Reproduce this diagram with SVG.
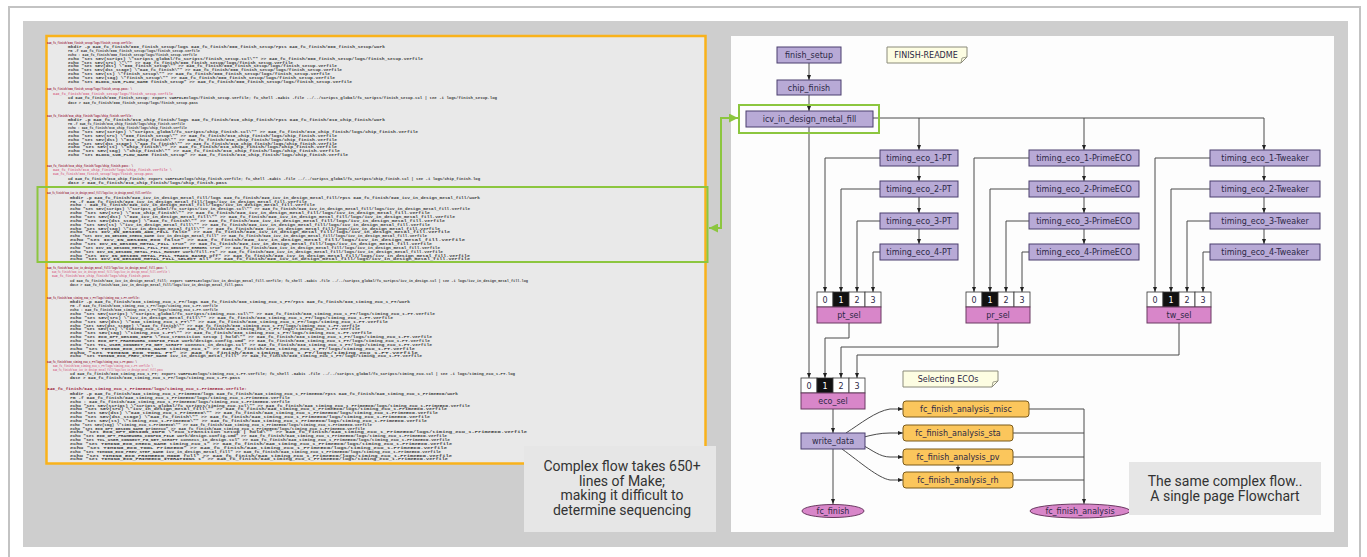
<svg xmlns="http://www.w3.org/2000/svg" width="1367" height="557" viewBox="0 0 1367 557">
<defs>
<style>
.code{font-family:"Liberation Mono",monospace;font-size:4.3px;font-weight:bold}
.h{fill:#9a1c40}
.p{fill:#d9708f}
.c{fill:#3d3d3d}
.nd{fill:#b8aad6;stroke:#4b3f6e;stroke-width:1}
.sel{fill:#d886c9;stroke:#6b3a62;stroke-width:1}
.cell{fill:#ffffff;stroke:#333;stroke-width:0.8}
.cellb{fill:#111;stroke:#333;stroke-width:0.8}
.or{fill:#fbc65c;stroke:#7a5a1a;stroke-width:1}
.note{fill:#fdfde2;stroke:#8a8a7a;stroke-width:1}
.t{font-family:"DejaVu Sans",sans-serif;font-size:8px;fill:#2c2845;text-anchor:middle}
.tw{fill:#ffffff}
.e{fill:none;stroke:#4a4a4a;stroke-width:1}
.cap{font-family:Roboto,"Liberation Sans",sans-serif;font-size:14px;fill:#333;text-anchor:middle}
.g{fill:none;stroke:#8cc63f;stroke-width:2}
</style>
<marker id="a" viewBox="0 0 10 10" refX="10" refY="5" markerWidth="5" markerHeight="5" orient="auto" markerUnits="userSpaceOnUse"><path d="M0,1 L10,5 L0,9 z" fill="#222"/></marker>
<marker id="ga" viewBox="0 0 10 10" refX="10" refY="5" markerWidth="9" markerHeight="9" orient="auto-start-reverse" markerUnits="userSpaceOnUse"><path d="M0,0 L10,5 L0,10 z" fill="#8cc63f"/></marker>
</defs>

<rect x="0" y="0" width="1367" height="557" fill="#ffffff"/>
<path d="M9,557 V7 H1360 V557" fill="none" stroke="#c3c3c3" stroke-width="2"/>
<rect x="23" y="21" width="1325" height="526" fill="#cecece"/>

<!-- Left: Makefile listing -->
<g id="makefile">
<rect x="46.5" y="36" width="659" height="427.5" fill="#e9e9e9" stroke="#f9b21b" stroke-width="2.5"/>
<g class="code">
<text class="h" x="47" y="44.4" textLength="86" lengthAdjust="spacingAndGlyphs">040_fc_finish/000_finish_setup/logs/finish_setup.verfile:</text>
<text class="c" x="68" y="48.3" textLength="317" lengthAdjust="spacingAndGlyphs">mkdir -p 040_fc_finish/000_finish_setup/logs 040_fc_finish/000_finish_setup/rpts 040_fc_finish/000_finish_setup/work</text>
<text class="c" x="68" y="52.1" textLength="132" lengthAdjust="spacingAndGlyphs">rm -f 040_fc_finish/000_finish_setup/logs/finish_setup.verfile</text>
<text class="c" x="68" y="55.9" textLength="129" lengthAdjust="spacingAndGlyphs">echo : 040_fc_finish/000_finish_setup/logs/finish_setup.verfile</text>
<text class="c" x="68" y="59.7" textLength="355" lengthAdjust="spacingAndGlyphs">echo "set SEV(script) \"scripts_global/fc_scripts/finish_setup.tcl\"" &gt;&gt; 040_fc_finish/000_finish_setup/logs/finish_setup.verfile</text>
<text class="c" x="68" y="63.5" textLength="225" lengthAdjust="spacingAndGlyphs">echo "set SEV(src) \"\"" &gt;&gt; 040_fc_finish/000_finish_setup/logs/finish_setup.verfile</text>
<text class="c" x="68" y="67.3" textLength="269" lengthAdjust="spacingAndGlyphs">echo "set SEV(dst) \"000_finish_setup\"" &gt;&gt; 040_fc_finish/000_finish_setup/logs/finish_setup.verfile</text>
<text class="c" x="68" y="71.1" textLength="274" lengthAdjust="spacingAndGlyphs">echo "set SEV(dst_stage) \"040_fc_finish\"" &gt;&gt; 040_fc_finish/000_finish_setup/logs/finish_setup.verfile</text>
<text class="c" x="68" y="74.9" textLength="262" lengthAdjust="spacingAndGlyphs">echo "set SEV(ts) \"finish_setup\"" &gt;&gt; 040_fc_finish/000_finish_setup/logs/finish_setup.verfile</text>
<text class="c" x="68" y="78.7" textLength="267" lengthAdjust="spacingAndGlyphs">echo "set SEV(tag) \"finish_setup\"" &gt;&gt; 040_fc_finish/000_finish_setup/logs/finish_setup.verfile</text>
<text class="c" x="68" y="82.5" textLength="284" lengthAdjust="spacingAndGlyphs">echo "set BLOCK_SUB_FLOW_NAME finish_setup" &gt;&gt; 040_fc_finish/000_finish_setup/logs/finish_setup.verfile</text>

<text class="h" x="47" y="90.4" textLength="85" lengthAdjust="spacingAndGlyphs">040_fc_finish/000_finish_setup/logs/finish_setup.pass: \</text>
<text class="p" x="53" y="95" textLength="120" lengthAdjust="spacingAndGlyphs">040_fc_finish/000_finish_setup/logs/finish_setup.verfile</text>
<text class="c" x="68" y="99.4" textLength="429" lengthAdjust="spacingAndGlyphs">cd 040_fc_finish/000_finish_setup; export VARFILE=logs/finish_setup.verfile; fc_shell -64bit -file ../../scripts_global/fc_scripts/finish_setup.tcl | tee -i logs/finish_setup.log</text>
<text class="c" x="68" y="103.8" textLength="130" lengthAdjust="spacingAndGlyphs">date &gt; 040_fc_finish/000_finish_setup/logs/finish_setup.pass</text>

<text class="h" x="47" y="117.4" textLength="86" lengthAdjust="spacingAndGlyphs">040_fc_finish/010_chip_finish/logs/chip_finish.verfile:</text>
<text class="c" x="68" y="121.4" textLength="317" lengthAdjust="spacingAndGlyphs">mkdir -p 040_fc_finish/010_chip_finish/logs 040_fc_finish/010_chip_finish/rpts 040_fc_finish/010_chip_finish/work</text>
<text class="c" x="68" y="125.3" textLength="117" lengthAdjust="spacingAndGlyphs">rm -f 040_fc_finish/010_chip_finish/logs/chip_finish.verfile</text>
<text class="c" x="68" y="129.1" textLength="119" lengthAdjust="spacingAndGlyphs">echo : 040_fc_finish/010_chip_finish/logs/chip_finish.verfile</text>
<text class="c" x="68" y="133" textLength="350" lengthAdjust="spacingAndGlyphs">echo "set SEV(script) \"scripts_global/fc_scripts/chip_finish.tcl\"" &gt;&gt; 040_fc_finish/010_chip_finish/logs/chip_finish.verfile</text>
<text class="c" x="68" y="136.8" textLength="269" lengthAdjust="spacingAndGlyphs">echo "set SEV(src) \"000_finish_setup\"" &gt;&gt; 040_fc_finish/010_chip_finish/logs/chip_finish.verfile</text>
<text class="c" x="68" y="140.7" textLength="269" lengthAdjust="spacingAndGlyphs">echo "set SEV(dst) \"010_chip_finish\"" &gt;&gt; 040_fc_finish/010_chip_finish/logs/chip_finish.verfile</text>
<text class="c" x="68" y="144.5" textLength="269" lengthAdjust="spacingAndGlyphs">echo "set SEV(dst_stage) \"040_fc_finish\"" &gt;&gt; 040_fc_finish/010_chip_finish/logs/chip_finish.verfile</text>
<text class="c" x="68" y="148.4" textLength="269" lengthAdjust="spacingAndGlyphs">echo "set SEV(ts) \"chip_finish\"" &gt;&gt; 040_fc_finish/010_chip_finish/logs/chip_finish.verfile</text>
<text class="c" x="68" y="152.2" textLength="272" lengthAdjust="spacingAndGlyphs">echo "set SEV(tag) \"chip_finish\"" &gt;&gt; 040_fc_finish/010_chip_finish/logs/chip_finish.verfile</text>
<text class="c" x="68" y="156.1" textLength="280" lengthAdjust="spacingAndGlyphs">echo "set BLOCK_SUB_FLOW_NAME finish_setup" &gt;&gt; 040_fc_finish/010_chip_finish/logs/chip_finish.verfile</text>

<text class="h" x="47" y="167.4" textLength="86" lengthAdjust="spacingAndGlyphs">040_fc_finish/010_chip_finish/logs/chip_finish.pass: \</text>
<text class="p" x="53" y="171.4" textLength="119" lengthAdjust="spacingAndGlyphs">040_fc_finish/010_chip_finish/logs/chip_finish.verfile \</text>
<text class="p" x="53" y="175.4" textLength="100" lengthAdjust="spacingAndGlyphs">040_fc_finish/000_finish_setup/logs/finish_setup.pass</text>
<text class="c" x="68" y="180.4" textLength="412" lengthAdjust="spacingAndGlyphs">cd 040_fc_finish/010_chip_finish; export VARFILE=logs/chip_finish.verfile; fc_shell -64bit -file ../../scripts_global/fc_scripts/chip_finish.tcl | tee -i logs/chip_finish.log</text>
<text class="c" x="68" y="184.4" textLength="159" lengthAdjust="spacingAndGlyphs">date &gt; 040_fc_finish/010_chip_finish/logs/chip_finish.pass</text>

<text class="h" x="47" y="194.4" textLength="105" lengthAdjust="spacingAndGlyphs">040_fc_finish/020_icv_in_design_metal_fill/logs/icv_in_design_metal_fill.verfile:</text>
<text class="c" x="70" y="198.7" textLength="410" lengthAdjust="spacingAndGlyphs">mkdir -p 040_fc_finish/020_icv_in_design_metal_fill/logs 040_fc_finish/020_icv_in_design_metal_fill/rpts 040_fc_finish/020_icv_in_design_metal_fill/work</text>
<text class="c" x="70" y="202.6" textLength="237" lengthAdjust="spacingAndGlyphs">rm -f 040_fc_finish/020_icv_in_design_metal_fill/logs/icv_in_design_metal_fill.verfile</text>
<text class="c" x="70" y="206.4" textLength="245" lengthAdjust="spacingAndGlyphs">echo : 040_fc_finish/020_icv_in_design_metal_fill/logs/icv_in_design_metal_fill.verfile</text>
<text class="c" x="70" y="210.3" textLength="400" lengthAdjust="spacingAndGlyphs">echo "set SEV(script) \"scripts_global/fc_scripts/icv_in_design.tcl\"" &gt;&gt; 040_fc_finish/020_icv_in_design_metal_fill/logs/icv_in_design_metal_fill.verfile</text>
<text class="c" x="70" y="214.1" textLength="360" lengthAdjust="spacingAndGlyphs">echo "set SEV(src) \"010_chip_finish\"" &gt;&gt; 040_fc_finish/020_icv_in_design_metal_fill/logs/icv_in_design_metal_fill.verfile</text>
<text class="c" x="70" y="218" textLength="385" lengthAdjust="spacingAndGlyphs">echo "set SEV(dst) \"020_icv_in_design_metal_fill\"" &gt;&gt; 040_fc_finish/020_icv_in_design_metal_fill/logs/icv_in_design_metal_fill.verfile</text>
<text class="c" x="70" y="221.8" textLength="375" lengthAdjust="spacingAndGlyphs">echo "set SEV(dst_stage) \"040_fc_finish\"" &gt;&gt; 040_fc_finish/020_icv_in_design_metal_fill/logs/icv_in_design_metal_fill.verfile</text>
<text class="c" x="70" y="225.7" textLength="360" lengthAdjust="spacingAndGlyphs">echo "set SEV(ts) \"icv_in_design_metal_fill\"" &gt;&gt; 040_fc_finish/020_icv_in_design_metal_fill/logs/icv_in_design_metal_fill.verfile</text>
<text class="c" x="70" y="229.5" textLength="370" lengthAdjust="spacingAndGlyphs">echo "set SEV(tag) \"icv_in_design_metal_fill\"" &gt;&gt; 040_fc_finish/020_icv_in_design_metal_fill/logs/icv_in_design_metal_fill.verfile</text>
<text class="c" x="70" y="233.4" textLength="380" lengthAdjust="spacingAndGlyphs">echo "set ICV_IN_DESIGN_ADD_FILL false" &gt;&gt; 040_fc_finish/020_icv_in_design_metal_fill/logs/icv_in_design_metal_fill.verfile</text>
<text class="c" x="70" y="237.2" textLength="357" lengthAdjust="spacingAndGlyphs">echo "set ICV_IN_DESIGN_CHECK_NAME icv_in_design_metal_fill" &gt;&gt; 040_fc_finish/020_icv_in_design_metal_fill/logs/icv_in_design_metal_fill.verfile</text>
<text class="c" x="70" y="241.1" textLength="395" lengthAdjust="spacingAndGlyphs">echo "set ICV_IN_DESIGN_ECO false" &gt;&gt; 040_fc_finish/020_icv_in_design_metal_fill/logs/icv_in_design_metal_fill.verfile</text>
<text class="c" x="70" y="244.9" textLength="362" lengthAdjust="spacingAndGlyphs">echo "set ICV_IN_DESIGN_METAL_FILL true" &gt;&gt; 040_fc_finish/020_icv_in_design_metal_fill/logs/icv_in_design_metal_fill.verfile</text>
<text class="c" x="70" y="248.8" textLength="370" lengthAdjust="spacingAndGlyphs">echo "set ICV_IN_DESIGN_METAL_FILL_FIX_DENSITY_ERRORS true" &gt;&gt; 040_fc_finish/020_icv_in_design_metal_fill/logs/icv_in_design_metal_fill.verfile</text>
<text class="c" x="70" y="252.6" textLength="373" lengthAdjust="spacingAndGlyphs">echo "set ICV_IN_DESIGN_METAL_FILL_RUNSET work/fill.rs" &gt;&gt; 040_fc_finish/020_icv_in_design_metal_fill/logs/icv_in_design_metal_fill.verfile</text>
<text class="c" x="70" y="256.5" textLength="400" lengthAdjust="spacingAndGlyphs">echo "set ICV_IN_DESIGN_METAL_FILL_TRACK_BASED off" &gt;&gt; 040_fc_finish/020_icv_in_design_metal_fill/logs/icv_in_design_metal_fill.verfile</text>
<text class="c" x="70" y="260.3" textLength="400" lengthAdjust="spacingAndGlyphs">echo "set ICV_IN_DESIGN_METAL_FILL_SELECT all" &gt;&gt; 040_fc_finish/020_icv_in_design_metal_fill/logs/icv_in_design_metal_fill.verfile</text>

<text class="h" x="47" y="269.4" textLength="120" lengthAdjust="spacingAndGlyphs">040_fc_finish/020_icv_in_design_metal_fill/logs/icv_in_design_metal_fill.pass: \</text>
<text class="p" x="52" y="273.4" textLength="118" lengthAdjust="spacingAndGlyphs">040_fc_finish/020_icv_in_design_metal_fill/logs/icv_in_design_metal_fill.verfile \</text>
<text class="p" x="52" y="277.4" textLength="98" lengthAdjust="spacingAndGlyphs">040_fc_finish/010_chip_finish/logs/chip_finish.pass</text>
<text class="c" x="70" y="282.4" textLength="458" lengthAdjust="spacingAndGlyphs">cd 040_fc_finish/020_icv_in_design_metal_fill; export VARFILE=logs/icv_in_design_metal_fill.verfile; fc_shell -64bit -file ../../scripts_global/fc_scripts/icv_in_design.tcl | tee -i logs/icv_in_design_metal_fill.log</text>
<text class="c" x="70" y="286.4" textLength="173" lengthAdjust="spacingAndGlyphs">date &gt; 040_fc_finish/020_icv_in_design_metal_fill/logs/icv_in_design_metal_fill.pass</text>

<text class="h" x="47" y="299.4" textLength="93" lengthAdjust="spacingAndGlyphs">040_fc_finish/030_timing_eco_1_PT/logs/timing_eco_1-PT.verfile:</text>
<text class="c" x="70" y="303.4" textLength="340" lengthAdjust="spacingAndGlyphs">mkdir -p 040_fc_finish/030_timing_eco_1_PT/logs 040_fc_finish/030_timing_eco_1_PT/rpts 040_fc_finish/030_timing_eco_1_PT/work</text>
<text class="c" x="70" y="307.3" textLength="148" lengthAdjust="spacingAndGlyphs">rm -f 040_fc_finish/030_timing_eco_1_PT/logs/timing_eco_1-PT.verfile</text>
<text class="c" x="70" y="311.1" textLength="148" lengthAdjust="spacingAndGlyphs">echo : 040_fc_finish/030_timing_eco_1_PT/logs/timing_eco_1-PT.verfile</text>
<text class="c" x="70" y="315" textLength="365" lengthAdjust="spacingAndGlyphs">echo "set SEV(script) \"scripts_global/fc_scripts/timing_eco.tcl\"" &gt;&gt; 040_fc_finish/030_timing_eco_1_PT/logs/timing_eco_1-PT.verfile</text>
<text class="c" x="70" y="318.8" textLength="323" lengthAdjust="spacingAndGlyphs">echo "set SEV(src) \"icv_in_design_metal_fill\"" &gt;&gt; 040_fc_finish/030_timing_eco_1_PT/logs/timing_eco_1-PT.verfile</text>
<text class="c" x="70" y="322.7" textLength="318" lengthAdjust="spacingAndGlyphs">echo "set SEV(dst) \"030_timing_eco_1_PT\"" &gt;&gt; 040_fc_finish/030_timing_eco_1_PT/logs/timing_eco_1-PT.verfile</text>
<text class="c" x="70" y="326.5" textLength="290" lengthAdjust="spacingAndGlyphs">echo "set SEV(dst_stage) \"040_fc_finish\"" &gt;&gt; 040_fc_finish/030_timing_eco_1_PT/logs/timing_eco_1-PT.verfile</text>
<text class="c" x="70" y="330.4" textLength="290" lengthAdjust="spacingAndGlyphs">echo "set SEV(ts) \"timing_eco_1-PT\"" &gt;&gt; 040_fc_finish/030_timing_eco_1_PT/logs/timing_eco_1-PT.verfile</text>
<text class="c" x="70" y="334.2" textLength="302" lengthAdjust="spacingAndGlyphs">echo "set SEV(tag) \"timing_eco_1-PT\"" &gt;&gt; 040_fc_finish/030_timing_eco_1_PT/logs/timing_eco_1-PT.verfile</text>
<text class="c" x="70" y="338.1" textLength="362" lengthAdjust="spacingAndGlyphs">echo "set ECO_OPT_DESIGN_INFO \"eco_transition setup | hold\"" &gt;&gt; 040_fc_finish/030_timing_eco_1_PT/logs/timing_eco_1-PT.verfile</text>
<text class="c" x="70" y="341.9" textLength="360" lengthAdjust="spacingAndGlyphs">echo "set ECO_OPT_FRAMEWORK_CONFIG_FILE work/design.config.cmd" &gt;&gt; 040_fc_finish/030_timing_eco_1_PT/logs/timing_eco_1-PT.verfile</text>
<text class="c" x="70" y="345.8" textLength="362" lengthAdjust="spacingAndGlyphs">echo "set TCL_USER_CONNECT_PG_NET_SCRIPT connect_in_design.tcl" &gt;&gt; 040_fc_finish/030_timing_eco_1_PT/logs/timing_eco_1-PT.verfile</text>
<text class="c" x="70" y="349.6" textLength="345" lengthAdjust="spacingAndGlyphs">echo "set TIMING_ECO_CHECK_NAME timing_eco_1" &gt;&gt; 040_fc_finish/030_timing_eco_1_PT/logs/timing_eco_1-PT.verfile</text>
<text class="c" x="70" y="353.5" textLength="348" lengthAdjust="spacingAndGlyphs">echo "set TIMING_ECO_TOOL PT" &gt;&gt; 040_fc_finish/030_timing_eco_1_PT/logs/timing_eco_1-PT.verfile</text>
<text class="c" x="70" y="357.3" textLength="352" lengthAdjust="spacingAndGlyphs">echo "set TIMING_ECO_PREV_STEP_NAME icv_in_design_metal_fill" &gt;&gt; 040_fc_finish/030_timing_eco_1_PT/logs/timing_eco_1-PT.verfile</text>

<text class="h" x="47" y="363.4" textLength="90" lengthAdjust="spacingAndGlyphs">040_fc_finish/030_timing_eco_1_PT/logs/timing_eco_1-PT.pass: \</text>
<text class="p" x="53" y="367.4" textLength="100" lengthAdjust="spacingAndGlyphs">040_fc_finish/030_timing_eco_1_PT/logs/timing_eco_1-PT.verfile \</text>
<text class="p" x="53" y="371.4" textLength="110" lengthAdjust="spacingAndGlyphs">040_fc_finish/020_icv_in_design_metal_fill/logs/icv_in_design_metal_fill.pass</text>
<text class="c" x="70" y="375.4" textLength="445" lengthAdjust="spacingAndGlyphs">cd 040_fc_finish/030_timing_eco_1_PT; export VARFILE=logs/timing_eco_1-PT.verfile; fc_shell -64bit -file ../../scripts_global/fc_scripts/timing_eco.tcl | tee -i logs/timing_eco_1-PT.log</text>
<text class="c" x="70" y="379.4" textLength="170" lengthAdjust="spacingAndGlyphs">date &gt; 040_fc_finish/030_timing_eco_1_PT/logs/timing_eco_1-PT.pass</text>

<text class="h" x="47" y="390.4" textLength="200" lengthAdjust="spacingAndGlyphs">040_fc_finish/040_timing_eco_1_PrimeECO/logs/timing_eco_1-PrimeECO.verfile:</text>
<text class="c" x="70" y="394.9" textLength="388" lengthAdjust="spacingAndGlyphs">mkdir -p 040_fc_finish/040_timing_eco_1_PrimeECO/logs 040_fc_finish/040_timing_eco_1_PrimeECO/rpts 040_fc_finish/040_timing_eco_1_PrimeECO/work</text>
<text class="c" x="70" y="398.8" textLength="220" lengthAdjust="spacingAndGlyphs">rm -f 040_fc_finish/040_timing_eco_1_PrimeECO/logs/timing_eco_1-PrimeECO.verfile</text>
<text class="c" x="70" y="402.6" textLength="220" lengthAdjust="spacingAndGlyphs">echo : 040_fc_finish/040_timing_eco_1_PrimeECO/logs/timing_eco_1-PrimeECO.verfile</text>
<text class="c" x="70" y="406.5" textLength="400" lengthAdjust="spacingAndGlyphs">echo "set SEV(script) \"scripts_global/fc_scripts/timing_eco.tcl\"" &gt;&gt; 040_fc_finish/040_timing_eco_1_PrimeECO/logs/timing_eco_1-PrimeECO.verfile</text>
<text class="c" x="70" y="410.3" textLength="377" lengthAdjust="spacingAndGlyphs">echo "set SEV(src) \"icv_in_design_metal_fill\"" &gt;&gt; 040_fc_finish/040_timing_eco_1_PrimeECO/logs/timing_eco_1-PrimeECO.verfile</text>
<text class="c" x="70" y="414.2" textLength="368" lengthAdjust="spacingAndGlyphs">echo "set SEV(dst) \"040_timing_eco_1_PrimeECO\"" &gt;&gt; 040_fc_finish/040_timing_eco_1_PrimeECO/logs/timing_eco_1-PrimeECO.verfile</text>
<text class="c" x="70" y="418" textLength="360" lengthAdjust="spacingAndGlyphs">echo "set SEV(dst_stage) \"040_fc_finish\"" &gt;&gt; 040_fc_finish/040_timing_eco_1_PrimeECO/logs/timing_eco_1-PrimeECO.verfile</text>
<text class="c" x="70" y="421.9" textLength="357" lengthAdjust="spacingAndGlyphs">echo "set SEV(ts) \"timing_eco_1-PrimeECO\"" &gt;&gt; 040_fc_finish/040_timing_eco_1_PrimeECO/logs/timing_eco_1-PrimeECO.verfile</text>
<text class="c" x="70" y="425.7" textLength="302" lengthAdjust="spacingAndGlyphs">echo "set SEV(tag) \"timing_eco_1-PrimeECO\"" &gt;&gt; 040_fc_finish/040_timing_eco_1_PrimeECO/logs/timing_eco_1-PrimeECO.verfile</text>
<text class="c" x="70" y="429.6" textLength="295" lengthAdjust="spacingAndGlyphs">echo "set ECO_OPT_DESIGN_NAME primeeco" &gt;&gt; 040_fc_finish/040_timing_eco_1_PrimeECO/logs/timing_eco_1-PrimeECO.verfile</text>
<text class="c" x="70" y="433.4" textLength="457" lengthAdjust="spacingAndGlyphs">echo "set ECO_OPT_DESIGN_INFO \"eco_transition setup | hold\"" &gt;&gt; 040_fc_finish/040_timing_eco_1_PrimeECO/logs/timing_eco_1-PrimeECO.verfile</text>
<text class="c" x="70" y="437.3" textLength="377" lengthAdjust="spacingAndGlyphs">echo "set ECO_OPT_FRAMEWORK_CONFIG_FILE work/design.config.cmd" &gt;&gt; 040_fc_finish/040_timing_eco_1_PrimeECO/logs/timing_eco_1-PrimeECO.verfile</text>
<text class="c" x="70" y="441.1" textLength="380" lengthAdjust="spacingAndGlyphs">echo "set TCL_USER_CONNECT_PG_NET_SCRIPT connect_in_design.tcl" &gt;&gt; 040_fc_finish/040_timing_eco_1_PrimeECO/logs/timing_eco_1-PrimeECO.verfile</text>
<text class="c" x="70" y="445" textLength="382" lengthAdjust="spacingAndGlyphs">echo "set TIMING_ECO_CHECK_NAME timing_eco_1" &gt;&gt; 040_fc_finish/040_timing_eco_1_PrimeECO/logs/timing_eco_1-PrimeECO.verfile</text>
<text class="c" x="70" y="448.8" textLength="377" lengthAdjust="spacingAndGlyphs">echo "set TIMING_ECO_TOOL PrimeECO" &gt;&gt; 040_fc_finish/040_timing_eco_1_PrimeECO/logs/timing_eco_1-PrimeECO.verfile</text>
<text class="c" x="70" y="452.7" textLength="371" lengthAdjust="spacingAndGlyphs">echo "set TIMING_ECO_PREV_STEP_NAME icv_in_design_metal_fill" &gt;&gt; 040_fc_finish/040_timing_eco_1_PrimeECO/logs/timing_eco_1-PrimeECO.verfile</text>
<text class="c" x="70" y="456.5" textLength="382" lengthAdjust="spacingAndGlyphs">echo "set TIMING_ECO_PRIMEECO_MODE full" &gt;&gt; 040_fc_finish/040_timing_eco_1_PrimeECO/logs/timing_eco_1-PrimeECO.verfile</text>
<text class="c" x="70" y="460.4" textLength="378" lengthAdjust="spacingAndGlyphs">echo "set TIMING_ECO_PRIMEECO_ITERATIONS 1" &gt;&gt; 040_fc_finish/040_timing_eco_1_PrimeECO/logs/timing_eco_1-PrimeECO.verfile</text>
</g>
</g>

<g id="highlight-make">
<rect class="g" x="37.5" y="187" width="670" height="75"/>
</g>

<g id="caption-make">
<rect x="524" y="446" width="192" height="86" fill="#e6e6e6"/>
<text class="cap" x="622" y="471">Complex flow takes 650+</text>
<text class="cap" x="622" y="485.5">lines of Make;</text>
<text class="cap" x="622" y="500">making it difficult to</text>
<text class="cap" x="622" y="514.5">determine sequencing</text>
</g>

<!-- Right: flowchart -->
<rect id="flow-panel" x="731" y="36" width="603" height="496" fill="#fdfdfd"/>

<g id="connectors" class="e">
<path d="M809,63 V80" marker-end="url(#a)"/>
<path d="M809,95 V111" marker-end="url(#a)"/>
<path d="M809,127 V378" marker-end="url(#a)"/>
<path d="M873,118 H1264 V150" marker-end="url(#a)"/>
<path d="M919,118 V150" marker-end="url(#a)"/>
<path d="M1084,118 V150" marker-end="url(#a)"/>
<path d="M919,166 V181" marker-end="url(#a)"/>
<path d="M919,197 V213" marker-end="url(#a)"/>
<path d="M919,229 V244" marker-end="url(#a)"/>
<path d="M1084,166 V181" marker-end="url(#a)"/>
<path d="M1084,197 V213" marker-end="url(#a)"/>
<path d="M1084,229 V244" marker-end="url(#a)"/>
<path d="M1264,166 V181" marker-end="url(#a)"/>
<path d="M1264,197 V213" marker-end="url(#a)"/>
<path d="M1264,229 V244" marker-end="url(#a)"/>
<path d="M880,158 H825 V292" marker-end="url(#a)"/>
<path d="M880,189 H841 V292" marker-end="url(#a)"/>
<path d="M880,221 H857 V292" marker-end="url(#a)"/>
<path d="M880,252 H873 V292" marker-end="url(#a)"/>
<path d="M1029,158 H974 V292" marker-end="url(#a)"/>
<path d="M1029,189 H990 V292" marker-end="url(#a)"/>
<path d="M1029,221 H1006 V292" marker-end="url(#a)"/>
<path d="M1029,252 H1022 V292" marker-end="url(#a)"/>
<path d="M1210,158 H1155 V292" marker-end="url(#a)"/>
<path d="M1210,189 H1171 V292" marker-end="url(#a)"/>
<path d="M1210,221 H1187 V292" marker-end="url(#a)"/>
<path d="M1210,252 H1203 V292" marker-end="url(#a)"/>
<path d="M849,323 V338 H825 V378" marker-end="url(#a)"/>
<path d="M998,323 V347 H841 V378" marker-end="url(#a)"/>
<path d="M1179,323 V355 H857 V378" marker-end="url(#a)"/>
<path d="M833,409 V433" marker-end="url(#a)"/>
<path d="M833,449 V504" marker-end="url(#a)"/>
<path d="M846,433 C860,424 876,411 890,409 L903,409" marker-end="url(#a)"/>
<path d="M864,437 C872,435 880,433 890,433 L903,433" marker-end="url(#a)"/>
<path d="M864,446 C872,450 880,457 890,457 L903,457" marker-end="url(#a)"/>
<path d="M842,449 C860,462 878,478 890,480 L903,480" marker-end="url(#a)"/>
<path d="M958,465 V472" marker-end="url(#a)"/>
<path d="M1029,409 H1084 V504" marker-end="url(#a)"/>
<path d="M1013,433 H1084"/>
<path d="M1013,457 H1084"/>
<path d="M1013,480 H1084"/>
</g>

<g id="finish_setup"><rect class="nd" x="777" y="47" width="64" height="16"/><text class="t" x="809" y="58">finish_setup</text></g>
<g id="chip_finish"><rect class="nd" x="777" y="80" width="64" height="15"/><text class="t" x="809" y="90.5">chip_finish</text></g>
<g id="finish_readme"><path class="note" d="M887,47 H967 V57 L961,63 H887 Z"/><path d="M961,63 L962,58 L967,57" fill="none" stroke="#8a8a7a" stroke-width="0.8"/><text class="t" x="926" y="58">FINISH-README</text></g>
<g id="icv_in_design_metal_fill"><rect class="nd" x="746" y="111" width="127" height="16"/><text class="t" x="809.5" y="122">icv_in_design_metal_fill</text></g>

<g id="timing_eco_1-PT"><rect class="nd" x="880" y="150" width="78" height="16"/><text class="t" x="919" y="161">timing_eco_1-PT</text></g>
<g id="timing_eco_2-PT"><rect class="nd" x="880" y="181" width="78" height="16"/><text class="t" x="919" y="192">timing_eco_2-PT</text></g>
<g id="timing_eco_3-PT"><rect class="nd" x="880" y="213" width="78" height="16"/><text class="t" x="919" y="224">timing_eco_3-PT</text></g>
<g id="timing_eco_4-PT"><rect class="nd" x="880" y="244" width="78" height="16"/><text class="t" x="919" y="255">timing_eco_4-PT</text></g>

<g id="timing_eco_1-PrimeECO"><rect class="nd" x="1029" y="150" width="110" height="16"/><text class="t" x="1084" y="161">timing_eco_1-PrimeECO</text></g>
<g id="timing_eco_2-PrimeECO"><rect class="nd" x="1029" y="181" width="110" height="16"/><text class="t" x="1084" y="192">timing_eco_2-PrimeECO</text></g>
<g id="timing_eco_3-PrimeECO"><rect class="nd" x="1029" y="213" width="110" height="16"/><text class="t" x="1084" y="224">timing_eco_3-PrimeECO</text></g>
<g id="timing_eco_4-PrimeECO"><rect class="nd" x="1029" y="244" width="110" height="16"/><text class="t" x="1084" y="255">timing_eco_4-PrimeECO</text></g>

<g id="timing_eco_1-Tweaker"><rect class="nd" x="1210" y="150" width="110" height="16"/><text class="t" x="1265" y="161">timing_eco_1-Tweaker</text></g>
<g id="timing_eco_2-Tweaker"><rect class="nd" x="1210" y="181" width="110" height="16"/><text class="t" x="1265" y="192">timing_eco_2-Tweaker</text></g>
<g id="timing_eco_3-Tweaker"><rect class="nd" x="1210" y="213" width="110" height="16"/><text class="t" x="1265" y="224">timing_eco_3-Tweaker</text></g>
<g id="timing_eco_4-Tweaker"><rect class="nd" x="1210" y="244" width="110" height="16"/><text class="t" x="1265" y="255">timing_eco_4-Tweaker</text></g>

<g id="pt_sel">
<rect class="cell" x="817" y="292" width="16" height="15"/><rect class="cellb" x="833" y="292" width="16" height="15"/><rect class="cell" x="849" y="292" width="16" height="15"/><rect class="cell" x="865" y="292" width="16" height="15"/>
<text class="t" x="825" y="302.5">0</text><text class="t tw" x="841" y="302.5">1</text><text class="t" x="857" y="302.5">2</text><text class="t" x="873" y="302.5">3</text>
<rect class="sel" x="817" y="307" width="64" height="16"/><text class="t" x="849" y="318">pt_sel</text>
</g>
<g id="pr_sel">
<rect class="cell" x="966" y="292" width="16" height="15"/><rect class="cellb" x="982" y="292" width="16" height="15"/><rect class="cell" x="998" y="292" width="16" height="15"/><rect class="cell" x="1014" y="292" width="16" height="15"/>
<text class="t" x="974" y="302.5">0</text><text class="t tw" x="990" y="302.5">1</text><text class="t" x="1006" y="302.5">2</text><text class="t" x="1022" y="302.5">3</text>
<rect class="sel" x="966" y="307" width="64" height="16"/><text class="t" x="998" y="318">pr_sel</text>
</g>
<g id="tw_sel">
<rect class="cell" x="1147" y="292" width="16" height="15"/><rect class="cellb" x="1163" y="292" width="16" height="15"/><rect class="cell" x="1179" y="292" width="16" height="15"/><rect class="cell" x="1195" y="292" width="16" height="15"/>
<text class="t" x="1155" y="302.5">0</text><text class="t tw" x="1171" y="302.5">1</text><text class="t" x="1187" y="302.5">2</text><text class="t" x="1203" y="302.5">3</text>
<rect class="sel" x="1147" y="307" width="64" height="16"/><text class="t" x="1179" y="318">tw_sel</text>
</g>
<g id="eco_sel">
<rect class="cell" x="801" y="378" width="16" height="15"/><rect class="cellb" x="817" y="378" width="16" height="15"/><rect class="cell" x="833" y="378" width="16" height="15"/><rect class="cell" x="849" y="378" width="16" height="15"/>
<text class="t" x="809" y="388.5">0</text><text class="t tw" x="825" y="388.5">1</text><text class="t" x="841" y="388.5">2</text><text class="t" x="857" y="388.5">3</text>
<rect class="sel" x="801" y="393" width="64" height="16"/><text class="t" x="833" y="404">eco_sel</text>
</g>

<g id="selecting_ecos"><path class="note" d="M903,371 H998 V381 L992,387 H903 Z"/><path d="M992,387 L993,382 L998,381" fill="none" stroke="#8a8a7a" stroke-width="0.8"/><text class="t" x="948" y="382">Selecting ECOs</text></g>

<g id="write_data"><rect class="nd" x="801" y="433" width="64" height="16"/><text class="t" x="833" y="444">write_data</text></g>

<g id="fc_finish_analysis_misc"><rect class="or" x="903" y="401" width="126" height="16" rx="3"/><text class="t" x="966" y="412">fc_finish_analysis_misc</text></g>
<g id="fc_finish_analysis_sta"><rect class="or" x="903" y="425" width="110" height="16" rx="3"/><text class="t" x="958" y="436">fc_finish_analysis_sta</text></g>
<g id="fc_finish_analysis_pv"><rect class="or" x="903" y="449" width="110" height="16" rx="3"/><text class="t" x="958" y="460">fc_finish_analysis_pv</text></g>
<g id="fc_finish_analysis_rh"><rect class="or" x="903" y="472" width="110" height="16" rx="3"/><text class="t" x="958" y="483">fc_finish_analysis_rh</text></g>

<g id="fc_finish"><ellipse class="sel" cx="833" cy="511" rx="31" ry="6.5"/><text class="t" x="833" y="514">fc_finish</text></g>
<g id="fc_finish_analysis"><ellipse class="sel" cx="1080" cy="511" rx="50" ry="7"/><text class="t" x="1080" y="514">fc_finish_analysis</text></g>

<g id="highlight-flow">
<rect class="g" x="739" y="105" width="140" height="28"/>
<path class="g" d="M709,228 H721 V118 H738" marker-start="url(#ga)" marker-end="url(#ga)"/>
</g>

<g id="caption-flow">
<rect x="1129" y="462" width="192" height="53" fill="#e6e6e6"/>
<text class="cap" x="1225" y="486">The same complex flow..</text>
<text class="cap" x="1225" y="501">A single page Flowchart</text>
</g>
</svg>
